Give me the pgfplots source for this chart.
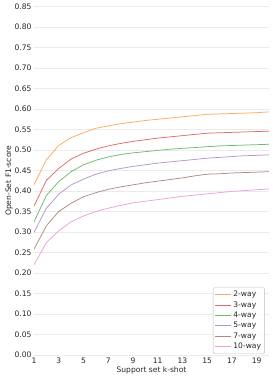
\documentclass[border=0pt]{standalone}
\usepackage{fontspec}
\setmainfont{DejaVu Sans}
\usepackage{pgfplots}
\pgfplotsset{compat=1.18}
\definecolor{c2}{HTML}{FFA95E}
\definecolor{c3}{HTML}{E26A6B}
\definecolor{c4}{HTML}{6CBC6C}
\definecolor{c5}{HTML}{B495D1}
\definecolor{c7}{HTML}{AF8A83}
\definecolor{c10}{HTML}{EEA0DA}
\definecolor{gridc}{HTML}{EBEBEB}
\definecolor{txt}{HTML}{262626}
\begin{document}
\begin{tikzpicture}
\begin{axis}[
  at={(34bp,27bp)}, anchor=south west,
  scale only axis, width=235bp, height=348.5bp,
  xmin=1, xmax=20, ymin=0, ymax=0.85,
  xtick={1,3,...,19},
  ytick={0,0.05,...,0.851},
  yticklabel style={/pgf/number format/fixed, /pgf/number format/fixed zerofill, /pgf/number format/precision=2, xshift=1bp},
  /pgf/number format/assume math mode=true,
  ymajorgrids, grid style={gridc, line width=0.6bp},
  axis line style={draw=none},
  tick style={draw=none},
  ticklabel style={font=\fontsize{7.6}{9}\selectfont, text=txt},
  xticklabel style={yshift=1bp},
  xlabel={Support set k-shot}, ylabel={Open-Set F1-score},
  label style={font=\fontsize{7.6}{9}\selectfont, text=txt},
  xlabel style={yshift=3bp},
  ylabel style={yshift=-5bp},
  legend style={font=\fontsize{7.6}{9}\selectfont, text=txt, draw=gridc!80!black, rounded corners=1.5bp, fill=white, fill opacity=0.8, text opacity=1, at={(0.982,0.003)}, anchor=south east, row sep=-0.6bp, inner sep=1.5bp},
  legend cell align=left,
  legend image code/.code={\draw[#1] (0bp,0bp) -- (16bp,0bp);},
  every axis plot/.append style={line width=0.75bp, mark=none},
]
\addplot[c2] coordinates {(1,0.415)(2,0.476)(3,0.511)(4,0.530)(5,0.542)(6,0.553)(7,0.559)(8,0.564)(9,0.568)(10,0.572)(11,0.575)(12,0.578)(13,0.581)(14,0.584)(15,0.587)(16,0.588)(17,0.589)(18,0.590)(19,0.591)(20,0.593)};
\addplot[c3] coordinates {(1,0.363)(2,0.426)(3,0.455)(4,0.478)(5,0.492)(6,0.502)(7,0.510)(8,0.516)(9,0.521)(10,0.525)(11,0.529)(12,0.532)(13,0.535)(14,0.538)(15,0.541)(16,0.542)(17,0.543)(18,0.544)(19,0.545)(20,0.546)};
\addplot[c4] coordinates {(1,0.325)(2,0.389)(3,0.423)(4,0.447)(5,0.464)(6,0.475)(7,0.483)(8,0.489)(9,0.493)(10,0.496)(11,0.499)(12,0.502)(13,0.504)(14,0.506)(15,0.508)(16,0.510)(17,0.511)(18,0.512)(19,0.513)(20,0.514)};
\addplot[c5] coordinates {(1,0.299)(2,0.358)(3,0.392)(4,0.415)(5,0.429)(6,0.441)(7,0.449)(8,0.455)(9,0.460)(10,0.464)(11,0.468)(12,0.471)(13,0.474)(14,0.477)(15,0.480)(16,0.482)(17,0.484)(18,0.486)(19,0.487)(20,0.488)};
\addplot[c7] coordinates {(1,0.258)(2,0.315)(3,0.350)(4,0.370)(5,0.386)(6,0.396)(7,0.404)(8,0.410)(9,0.415)(10,0.420)(11,0.424)(12,0.428)(13,0.432)(14,0.437)(15,0.441)(16,0.442)(17,0.444)(18,0.445)(19,0.446)(20,0.447)};
\addplot[c10] coordinates {(1,0.220)(2,0.274)(3,0.303)(4,0.325)(5,0.339)(6,0.350)(7,0.358)(8,0.365)(9,0.371)(10,0.375)(11,0.379)(12,0.383)(13,0.387)(14,0.390)(15,0.393)(16,0.396)(17,0.399)(18,0.401)(19,0.403)(20,0.405)};
\legend{2-way,3-way,4-way,5-way,7-way,10-way}
\end{axis}
\pgfresetboundingbox
\path (0,0) rectangle (273bp,382bp);
\end{tikzpicture}
\end{document}
